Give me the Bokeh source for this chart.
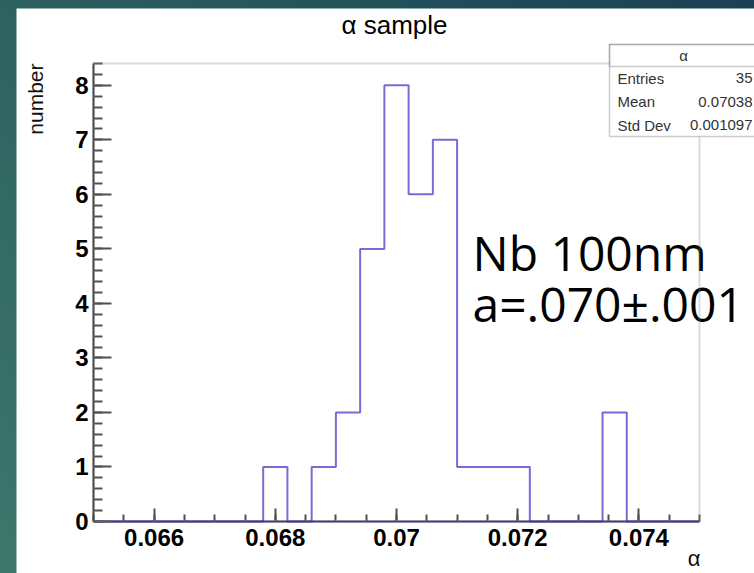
import numpy as np
from bokeh.plotting import figure
from bokeh.models import (Range1d, SingleIntervalTicker, CustomJSTickFormatter, Label,
                          BoxAnnotation, Spacer, GlobalInlineStyleSheet)
from bokeh.layouts import row, column
from bokeh.embed import file_html
from bokeh.resources import INLINE

# ---- data ----
bin_edges = [0.0650, 0.0654, 0.0658, 0.0662, 0.0666, 0.0670, 0.0674, 0.0678, 0.0682, 0.0686,
             0.0690, 0.0694, 0.0698, 0.0702, 0.0706, 0.0710, 0.0714, 0.0718, 0.0722, 0.0726,
             0.0730, 0.0734, 0.0738, 0.0742, 0.0746, 0.0750]
counts = [0, 0, 0, 0, 0, 0, 0, 1, 0, 1, 2, 5, 8, 6, 7, 1, 1, 1, 0, 0, 0, 2, 0, 0, 0]
stats_title = "α"
stats_labels = ["Entries", "Mean", "Std Dev"]
stats_values = ["35", "0.07038", "0.001097"]
title_text = "α sample"
x_title = "α"
y_title = "number"
note_lines = ["Nb 100nm", "a=.070±.001"]

X0, X1 = 0.065, 0.075      # histogram axis range
Y0, Y1 = 0.0, 8.4

W, H = 738, 565
OX, OY = 16, 8                        # figure origin on the page
# ROOT frame on the page: left 93, right 699, top 63, bottom 521
PL, PR, PT, PB = 93, 699, 63, 521
SX = (X1 - X0) / (PR - PL)             # data per pixel
SY = (Y1 - Y0) / (PB - PT)


def xd(px):
    return X0 + (px - PL) * SX


def yd(py):
    return Y0 + (PB - py) * SY


# the Bokeh frame fills the whole figure; the axes are pinned to the
# histogram's own edges with fixed_location, so every text can sit anywhere
p = figure(width=W, height=H, output_backend="svg", toolbar_location=None, title=None,
           x_range=Range1d(xd(OX), xd(OX + W)), y_range=Range1d(yd(OY + H), yd(OY)),
           min_border_left=0, min_border_right=0, min_border_top=0, min_border_bottom=0)
p.background_fill_color = "white"
p.border_fill_color = "white"
p.outline_line_color = None
p.xgrid.visible = False
p.ygrid.visible = False

p.step(x=bin_edges, y=counts + [counts[-1]], mode="after",
       line_color="#776bd8", line_width=2)

# axes
p.xaxis.fixed_location = Y0
p.yaxis.fixed_location = X0
p.xaxis.ticker = SingleIntervalTicker(interval=0.002, num_minor_ticks=4)
p.yaxis.ticker = SingleIntervalTicker(interval=1, num_minor_ticks=5)
p.xaxis.bounds = (X0, X1)
p.yaxis.bounds = (Y0, Y1)
p.xaxis.formatter = CustomJSTickFormatter(code="return String(parseFloat(tick.toFixed(4)));")
p.yaxis.formatter = CustomJSTickFormatter(code="return String(Math.round(tick));")
for ax in (p.xaxis[0], p.yaxis[0]):
    ax.major_label_text_font = "Liberation Sans"
    ax.major_label_text_font_style = "bold"
    ax.major_label_text_font_size = "24px"
    ax.major_label_text_color = "black"
    ax.major_tick_out = 0
    ax.minor_tick_out = 0
    ax.major_tick_line_color = "#505050"
    ax.minor_tick_line_color = "#505050"
    ax.major_tick_line_width = 2
    ax.minor_tick_line_width = 2
p.xaxis.major_tick_in = 13
p.xaxis.minor_tick_in = 7
p.yaxis.major_tick_in = 18
p.yaxis.minor_tick_in = 9
p.xaxis.major_label_standoff = 7
p.yaxis.major_label_standoff = 5
p.xaxis.axis_line_color = "#23235a"
p.xaxis.axis_line_width = 2
p.yaxis.axis_line_color = "#333333"
p.yaxis.axis_line_width = 2

# titles
p.add_layout(Label(x=xd(394), y=yd(24), text=title_text, text_align="center",
                   text_baseline="middle", text_font="Liberation Sans",
                   text_font_size="26px", text_color="black"))
p.add_layout(Label(x=xd(35), y=yd(63), text=y_title, angle=np.pi / 2,
                   text_align="right", text_baseline="middle", text_font="Liberation Sans",
                   text_font_size="21px", text_color="#111111"))
p.add_layout(Label(x=xd(700), y=yd(558), text=x_title, text_align="right",
                   text_baseline="middle", text_font="Liberation Sans",
                   text_font_size="22px", text_color="#111111"))

# slide note (under the frame line, as in the slide)
for line, by in zip(note_lines, [252, 303]):
    p.add_layout(Label(x=xd(472), y=yd(by), text=line, text_align="left",
                       text_baseline="alphabetic", text_font="Open Sans",
                       text_font_size="48px", text_color="black"))

# histogram frame (top and right edges visible)
p.add_layout(BoxAnnotation(left=X0, right=X1, bottom=Y0, top=Y1, fill_alpha=0.0,
                           line_color="#8a8a8a", line_width=2, level="overlay"))

# stats box
p.add_layout(BoxAnnotation(left=xd(609), right=xd(780), top=yd(44), bottom=yd(136),
                           fill_color="white", fill_alpha=1.0, level="overlay",
                           line_color="#555555", line_width=1.5))
p.add_layout(BoxAnnotation(left=xd(609), right=xd(780), top=yd(44), bottom=yd(66),
                           fill_alpha=0.0, line_color="#555555", line_width=1.5,
                           level="overlay"))
p.add_layout(Label(x=xd(683), y=yd(55), text=stats_title, text_align="center",
                   text_baseline="middle", text_font="Liberation Sans", level="overlay",
                   text_font_size="15px", text_color="#333333"))
row_y = [77.5, 101, 124.5]
for lab, val, ry in zip(stats_labels, stats_values, row_y):
    p.add_layout(Label(x=xd(617), y=yd(ry), text=lab, text_align="left",
                       text_baseline="middle", text_font="Liberation Sans", level="overlay",
                       text_font_size="15px", text_color="#333333"))
    p.add_layout(Label(x=xd(752), y=yd(ry), text=val, text_align="right",
                       text_baseline="middle", text_font="Liberation Sans", level="overlay",
                       text_font_size="15px", text_color="#333333"))

bg = GlobalInlineStyleSheet(css="""
html, body { background: linear-gradient(to right, rgba(22,58,82,0) 0%, rgba(22,58,82,0.85) 100%),
                         linear-gradient(to bottom, #2c625f, #3e776d); }
""")
layout = column(Spacer(width=W + OX, height=OY),
                row(Spacer(width=OX, height=H), p),
                stylesheets=[bg])

open("out.html", "w").write(file_html(layout, INLINE))
